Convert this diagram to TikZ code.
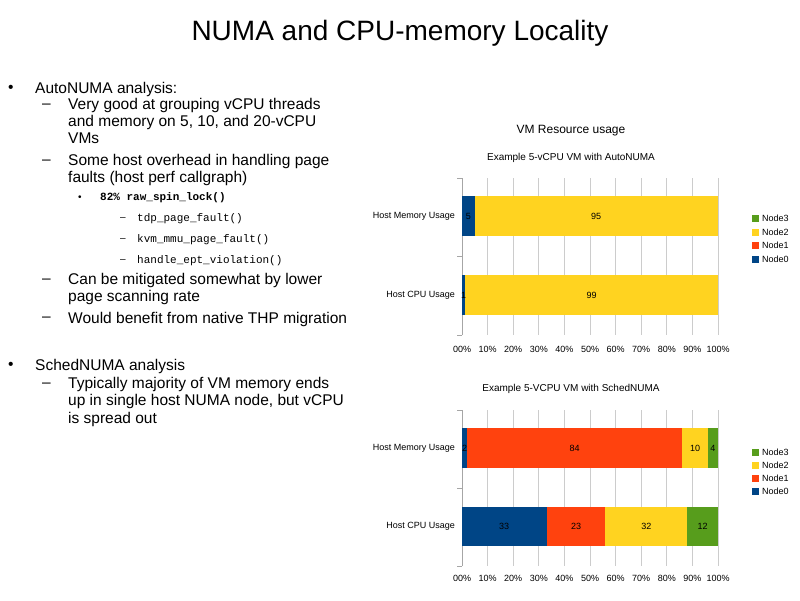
\documentclass[tikz,border=0pt]{standalone}
\usepackage{fontspec}
\setmainfont{Liberation Sans}
\setmonofont{Liberation Mono}
\definecolor{nzero}{HTML}{004586}
\definecolor{none}{HTML}{FF420E}
\definecolor{ntwo}{HTML}{FFD320}
\definecolor{nthree}{HTML}{579D1C}
\begin{document}
\begin{tikzpicture}[x=1pt,y=-1pt,
  body/.style={anchor=west,inner sep=0,font=\fontsize{15.5}{18}\selectfont},
  mono/.style={anchor=west,inner sep=0,font=\ttfamily\fontsize{11}{13}\selectfont},
  lab/.style={inner sep=0,font=\fontsize{9}{11}\selectfont},
  grid/.style={draw=black!20,line width=0.8},
  axis/.style={draw=black!35,line width=0.8}]
\useasboundingbox[fill=white] (0,0) rectangle (800,600);
\node[inner sep=0,font=\fontsize{28}{32}\selectfont] (title) at (400,33) {NUMA and CPU-memory Locality};
% left text
\node[body] (b1) at (8,89) {\textbullet};
\node[body] (t1) at (35,89) {AutoNUMA analysis:};
\node[body] (d1) at (42,106) {–};
\node[body,align=left,font=\fontsize{15.5}{17}\selectfont,anchor=north west] (t2) at (68,98) {Very good at grouping vCPU threads\\and memory on 5, 10, and 20-vCPU\\VMs};
\node[body] (d2) at (42,162) {–};
\node[body,align=left,font=\fontsize{15.5}{17}\selectfont,anchor=north west] (t3) at (68,154) {Some host overhead in handling page\\faults (host perf callgraph)};
\node[body,font=\fontsize{10}{12}\selectfont] (b2) at (78,198) {\textbullet};
\node[mono,font=\ttfamily\bfseries\fontsize{11}{13}\selectfont] (t4) at (100,198) {82\% raw\_spin\_lock()};
\node[body,font=\fontsize{10}{12}\selectfont] (d3) at (120,219) {–};
\node[mono] (t5) at (137,219) {tdp\_page\_fault()};
\node[body,font=\fontsize{10}{12}\selectfont] (d4) at (120,240) {–};
\node[mono] (t6) at (137,240) {kvm\_mmu\_page\_fault()};
\node[body,font=\fontsize{10}{12}\selectfont] (d5) at (120,261) {–};
\node[mono] (t7) at (137,261) {handle\_ept\_violation()};
\node[body] (d6) at (42,281) {–};
\node[body,align=left,font=\fontsize{15.5}{17}\selectfont,anchor=north west] (t8) at (68,273) {Can be mitigated somewhat by lower\\page scanning rate};
\node[body] (d7) at (42,319) {–};
\node[body] (t9) at (68,319) {Would benefit from native THP migration};
\node[body] (b3) at (8,366) {\textbullet};
\node[body] (t10) at (35,366) {SchedNUMA analysis};
\node[body] (d8) at (42,385) {–};
\node[body,align=left,font=\fontsize{15.5}{17.5}\selectfont,anchor=north west] (t11) at (68,377) {Typically majority of VM memory ends\\up in single host NUMA node, but vCPU\\is spread out};
% chart titles
\node[inner sep=0,font=\fontsize{12}{14}\selectfont] (ct) at (571,131) {VM Resource usage};
\node[lab,font=\fontsize{10}{12}\selectfont] (c1t) at (571,158) {Example 5-vCPU VM with AutoNUMA};
\node[lab,font=\fontsize{10}{12}\selectfont] (c2t) at (571,389) {Example 5-VCPU VM with SchedNUMA};
% chart 1 grid
\foreach \i in {0,...,10}{
  \draw[grid] ({462+25.6*\i},178) -- ({462+25.6*\i},335);
  \node[lab] at ({462+25.6*\i},349) {\i0\%};
}
\foreach \i in {0,...,10}{
  \draw[grid] ({462+25.6*\i},410) -- ({462+25.6*\i},566);
  \node[lab] at ({462+25.6*\i},578) {\i0\%};
}
\draw[axis] (462,178) -- (462,335) (457,178) -- (462,178) (457,256) -- (462,256) (457,335) -- (462,335);
\draw[axis] (462,410) -- (462,566) (457,410) -- (462,410) (457,488) -- (462,488) (457,566) -- (462,566);
% chart 1 bars
\fill[nzero] (462,196) rectangle (474.8,236);
\fill[ntwo] (474.8,196) rectangle (718,236);
\fill[nzero] (462,275) rectangle (464.6,315);
\fill[ntwo] (464.6,275) rectangle (718,315);
\node[lab] at (468.4,216) {5};
\node[lab] at (596,216) {95};
\node[lab] at (463.5,295) {1};
\node[lab] at (591.5,295) {99};
\node[lab,anchor=east] at (455,216) {Host Memory Usage};
\node[lab,anchor=east] at (455,295) {Host CPU Usage};
% chart 2 bars
\fill[nzero] (462,428) rectangle (467.1,468);
\fill[none] (467.1,428) rectangle (682.2,468);
\fill[ntwo] (682.2,428) rectangle (707.8,468);
\fill[nthree] (707.8,428) rectangle (718,468);
\node[lab] at (464.5,448) {2};
\node[lab] at (574.6,448) {84};
\node[lab] at (695,448) {10};
\node[lab] at (712.9,448) {4};
\fill[nzero] (462,507) rectangle (546.5,546);
\fill[none] (546.5,507) rectangle (605.4,546);
\fill[ntwo] (605.4,507) rectangle (687.3,546);
\fill[nthree] (687.3,507) rectangle (718,546);
\node[lab] at (504.2,526) {33};
\node[lab] at (576,526) {23};
\node[lab] at (646.3,526) {32};
\node[lab] at (702.6,526) {12};
\node[lab,anchor=east] at (455,448) {Host Memory Usage};
\node[lab,anchor=east] at (455,526) {Host CPU Usage};
% legends
\foreach \c/\n [count=\k from 0] in {nthree/Node3,ntwo/Node2,none/Node1,nzero/Node0}{
  \fill[\c] (752,{215+13.5*\k}) rectangle (759,{222+13.5*\k});
  \node[lab,anchor=west] at (762,{218.5+13.5*\k}) {\n};
  \fill[\c] (752,{448.5+13*\k}) rectangle (759,{455.5+13*\k});
  \node[lab,anchor=west] at (762,{452+13*\k}) {\n};
}
\end{tikzpicture}
\end{document}
